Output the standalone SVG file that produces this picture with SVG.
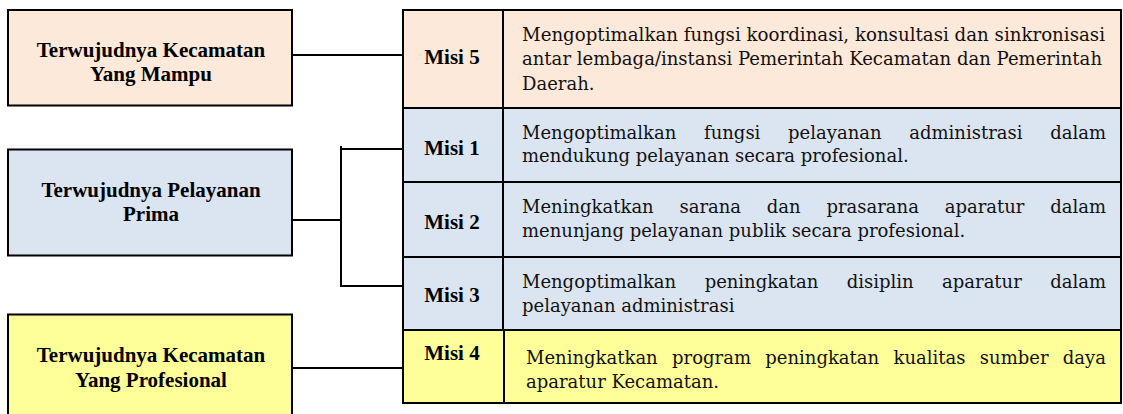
<svg xmlns="http://www.w3.org/2000/svg" width="1123" height="414" viewBox="0 0 1123 414">
<style>
.box{stroke:#000;stroke-width:2}
.peach{fill:#FDE9D9}
.blue{fill:#DBE5F1}
.yellow{fill:#FFFF99}
.goal{font-family:"Liberation Serif","Times New Roman",serif;font-weight:bold;font-size:21px;fill:#000;text-anchor:middle}
.misi{font-family:"Liberation Serif","Times New Roman",serif;font-weight:bold;font-size:21px;fill:#000;text-anchor:middle}
.desc{font-family:"DejaVu Serif",serif;font-size:18px;fill:#111}
.conn line{stroke:#000;stroke-width:2;fill:none}
</style>
<rect width="1123" height="414" fill="#fff"/>
<g id="goal1">
<rect class="box peach" x="8" y="10" width="284" height="95.5"/>
<text class="goal" x="151" y="57">Terwujudnya Kecamatan</text>
<text class="goal" x="151" y="81">Yang Mampu</text>
</g>
<g id="goal2">
<rect class="box blue" x="8" y="149.5" width="284" height="106"/>
<text class="goal" x="151" y="197">Terwujudnya Pelayanan</text>
<text class="goal" x="151" y="221">Prima</text>
</g>
<g id="goal3">
<rect class="box yellow" x="8" y="314.5" width="284" height="110"/>
<text class="goal" x="151" y="362">Terwujudnya Kecamatan</text>
<text class="goal" x="151" y="387">Yang Profesional</text>
</g>
<g id="misi5">
<rect class="box peach" x="403" y="10" width="100" height="98"/>
<rect class="box peach" x="503" y="10" width="618" height="98"/>
<text class="misi" x="452" y="64">Misi 5</text>
<text class="desc" x="522" y="41" textLength="583" lengthAdjust="spacingAndGlyphs">Mengoptimalkan fungsi koordinasi, konsultasi dan sinkronisasi</text>
<text class="desc" x="522" y="65" textLength="580" lengthAdjust="spacingAndGlyphs">antar lembaga/instansi Pemerintah Kecamatan dan Pemerintah</text>
<text class="desc" x="522" y="90">Daerah.</text>
</g>
<g id="misi1">
<rect class="box blue" x="403" y="108" width="100" height="74"/>
<rect class="box blue" x="503" y="108" width="618" height="74"/>
<text class="misi" x="452" y="155">Misi 1</text>
<text class="desc" x="522" y="139" textLength="584" lengthAdjust="spacing" style="word-spacing:22px">Mengoptimalkan fungsi pelayanan administrasi dalam</text>
<text class="desc" x="522" y="162">mendukung pelayanan secara profesional.</text>
</g>
<g id="misi2">
<rect class="box blue" x="403" y="182" width="100" height="75"/>
<rect class="box blue" x="503" y="182" width="618" height="75"/>
<text class="misi" x="452" y="229">Misi 2</text>
<text class="desc" x="522" y="213" textLength="584" lengthAdjust="spacing" style="word-spacing:20px">Meningkatkan sarana dan prasarana aparatur dalam</text>
<text class="desc" x="522" y="237">menunjang pelayanan publik secara profesional.</text>
</g>
<g id="misi3">
<rect class="box blue" x="403" y="257" width="100" height="73"/>
<rect class="box blue" x="503" y="257" width="618" height="73"/>
<text class="misi" x="452" y="302">Misi 3</text>
<text class="desc" x="522" y="288" textLength="584" lengthAdjust="spacing" style="word-spacing:22.8px">Mengoptimalkan peningkatan disiplin aparatur dalam</text>
<text class="desc" x="522" y="312">pelayanan administrasi</text>
</g>
<g id="misi4">
<rect class="box yellow" x="403" y="330" width="101" height="73"/>
<rect class="box yellow" x="504" y="330" width="617" height="73"/>
<text class="misi" x="452" y="360">Misi 4</text>
<text class="desc" x="526" y="364" textLength="580" lengthAdjust="spacing" style="word-spacing:8.6px">Meningkatkan program peningkatan kualitas sumber daya</text>
<text class="desc" x="526" y="388">aparatur Kecamatan.</text>
</g>
<g id="connectors" class="conn">
<line x1="292" y1="55" x2="403" y2="55"/>
<line x1="292" y1="220" x2="341" y2="220"/>
<line x1="341" y1="146" x2="341" y2="287"/>
<line x1="341" y1="149" x2="403" y2="149"/>
<line x1="341" y1="286" x2="403" y2="286"/>
<line x1="292" y1="368" x2="403" y2="368"/>
</g>
</svg>
